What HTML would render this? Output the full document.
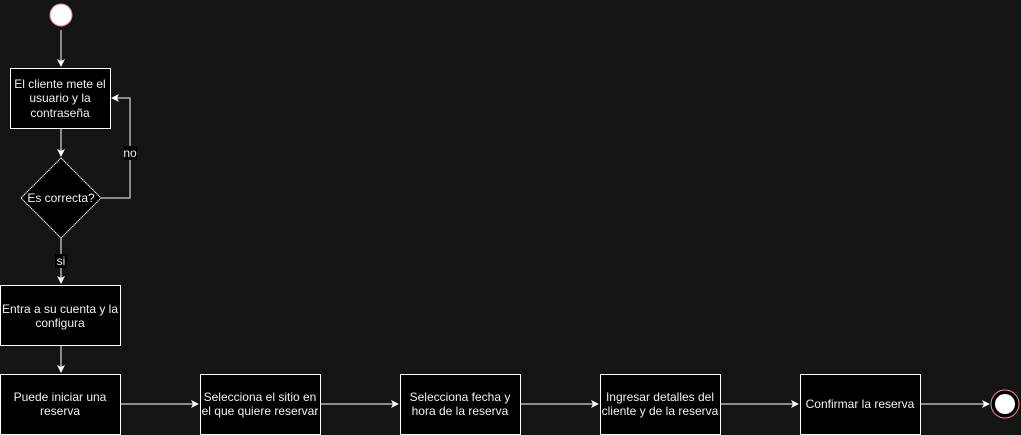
<!DOCTYPE html>
<html><head><style>
html,body{margin:0;padding:0;background:#141414;}
svg{display:block;}
text{font-family:"Liberation Sans",Arial,sans-serif;font-size:12px;fill:#f0f0f0;text-anchor:middle;}
</style></head><body>
<svg width="1021" height="435" viewBox="0 0 1021 435" xmlns="http://www.w3.org/2000/svg">
<defs>
<marker id="a" markerWidth="10" markerHeight="10" refX="7" refY="5" orient="auto" markerUnits="userSpaceOnUse">
<path d="M0,1 L8,5 L0,9 L2,5 Z" fill="#fff"/>
</marker>
</defs>
<circle cx="61" cy="15" r="11" fill="#fff" stroke="#e88" stroke-width="1"/>
<g stroke="#fff" stroke-width="1" fill="none">
<line x1="61" y1="30" x2="61" y2="66" marker-end="url(#a)"/>
<line x1="61" y1="128" x2="61" y2="156" marker-end="url(#a)"/>
<polyline points="101,198 130,198 130,98 112,98" marker-end="url(#a)"/>
<line x1="61" y1="238" x2="61" y2="283" marker-end="url(#a)"/>
<line x1="61" y1="345" x2="61" y2="372" marker-end="url(#a)"/>
<line x1="120" y1="404" x2="198" y2="404" marker-end="url(#a)"/>
<line x1="320" y1="404" x2="398" y2="404" marker-end="url(#a)"/>
<line x1="520" y1="404" x2="598" y2="404" marker-end="url(#a)"/>
<line x1="720" y1="404" x2="798" y2="404" marker-end="url(#a)"/>
<line x1="920" y1="404" x2="989" y2="404" marker-end="url(#a)"/>
</g>
<g fill="#000" stroke="#fff" stroke-width="1">
<rect x="10.5" y="68.5" width="100" height="60"/>
<polygon points="61,158 101,198 61,238 21,198" stroke-dasharray="1.5 0.5"/>
<rect x="0.5" y="285.5" width="120" height="60"/>
<rect x="0.5" y="374.5" width="120" height="60"/>
<rect x="200.5" y="374.5" width="120" height="60"/>
<rect x="400.5" y="374.5" width="120" height="60"/>
<rect x="600.5" y="374.5" width="120" height="60"/>
<rect x="800.5" y="374.5" width="120" height="60"/>
</g>
<circle cx="1005" cy="404" r="14" fill="#000" stroke="#e88"/>
<circle cx="1005" cy="404" r="10" fill="#fff"/>
<rect x="124" y="146" width="13" height="14" fill="#000"/>
<text x="130" y="157">no</text>
<rect x="55" y="254" width="12" height="14" fill="#000"/>
<text x="61" y="265">si</text>
<text x="60" y="88">El cliente mete el</text>
<text x="60" y="102">usuario y la</text>
<text x="60" y="117">contraseña</text>
<text x="61" y="202">Es correcta?</text>
<text x="60" y="313">Entra a su cuenta y la</text>
<text x="60" y="327">configura</text>
<text x="60" y="401">Puede iniciar una</text>
<text x="60" y="415">reserva</text>
<text x="260" y="401">Selecciona el sitio en</text>
<text x="260" y="415">el que quiere reservar</text>
<text x="460" y="401">Selecciona fecha y</text>
<text x="460" y="415">hora de la reserva</text>
<text x="660" y="401">Ingresar detalles del</text>
<text x="660" y="415">cliente y de la reserva</text>
<text x="860" y="408">Confirmar la reserva</text>
</svg>
</body></html>
